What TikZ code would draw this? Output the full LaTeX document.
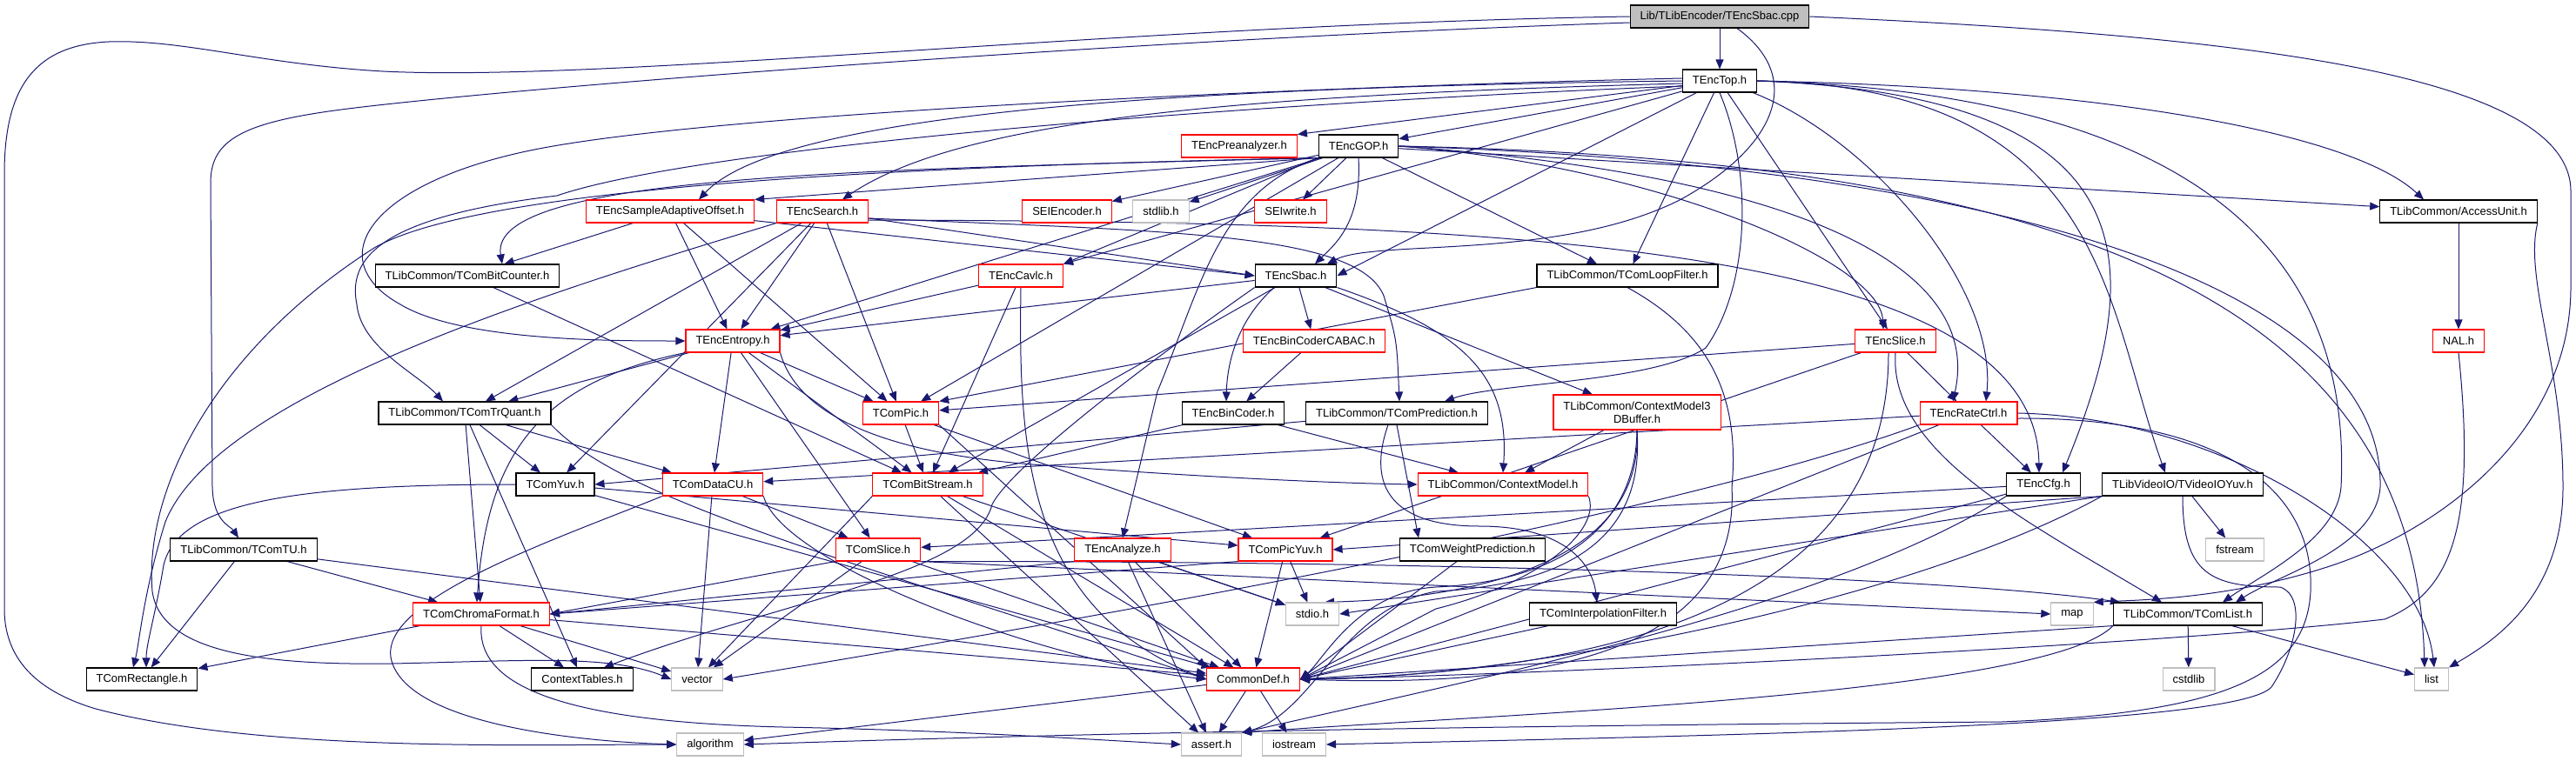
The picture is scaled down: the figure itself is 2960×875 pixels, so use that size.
\documentclass[tikz,border=0pt]{standalone}
\usepackage{fontspec}
\setmainfont{Liberation Sans}
\usetikzlibrary{arrows.meta,calc}
\definecolor{dxblue}{HTML}{191970}
\definecolor{dxgray}{HTML}{BFBFBF}
\pgfdeclarelayer{edges}
\pgfsetlayers{edges,main}

\begin{document}
\begin{tikzpicture}[x=1pt,y=-1pt,>={Triangle[length=11pt,width=9pt]},
  box/.style={draw=black,line width=1.1pt,fill=white,minimum height=26pt,inner xsep=11.5pt,inner ysep=2pt,font=\fontsize{13}{15}\selectfont},
  redbox/.style={box,draw=red},
  sysbox/.style={box,draw=dxgray},
  dep/.style={->,draw=dxblue,line width=1pt}]
  \useasboundingbox (0,0) rectangle (2960,875);
  \node[box,fill=dxgray] (cpp) at (1976,19) {Lib/TLibEncoder/TEncSbac.cpp};
  \node[box] (top) at (1976,93) {TEncTop.h};
  \node[redbox] (preana) at (1424,168) {TEncPreanalyzer.h};
  \node[box] (gop) at (1561,168) {TEncGOP.h};
  \node[redbox] (sao) at (770,243) {TEncSampleAdaptiveOffset.h};
  \node[redbox] (search) at (945,243) {TEncSearch.h};
  \node[redbox] (seienc) at (1226,243) {SEIEncoder.h};
  \node[sysbox] (stdlib) at (1334,243) {stdlib.h};
  \node[redbox] (seiwr) at (1483,243) {SEIwrite.h};
  \node[box] (au) at (2825,243) {TLibCommon/AccessUnit.h};
  \node[box] (bitcnt) at (537,317) {TLibCommon/TComBitCounter.h};
  \node[redbox] (cavlc) at (1173,317) {TEncCavlc.h};
  \node[box] (sbac) at (1489,317) {TEncSbac.h};
  \node[box] (loopf) at (1870,317) {TLibCommon/TComLoopFilter.h};
  \node[redbox] (ent) at (842,392) {TEncEntropy.h};
  \node[redbox] (cabac) at (1510,392) {TEncBinCoderCABAC.h};
  \node[redbox] (slice) at (2178,392) {TEncSlice.h};
  \node[redbox] (nal) at (2825,392) {NAL.h};
  \node[box] (trq) at (534,475) {TLibCommon/TComTrQuant.h};
  \node[redbox] (pic) at (1035,475) {TComPic.h};
  \node[box] (bincod) at (1417,475) {TEncBinCoder.h};
  \node[box] (pred) at (1605,475) {TLibCommon/TComPrediction.h};
  \node[redbox,align=center,minimum height=40pt] (cm3d) at (1881,474) {TLibCommon/ContextModel3\\DBuffer.h};
  \node[redbox] (ratec) at (2262,475) {TEncRateCtrl.h};
  \node[box] (yuv) at (638,557) {TComYuv.h};
  \node[redbox] (dcu) at (819,557) {TComDataCU.h};
  \node[redbox] (bs) at (1066,557) {TComBitStream.h};
  \node[redbox] (cm) at (1727,557) {TLibCommon/ContextModel.h};
  \node[box] (cfg) at (2348,557) {TEncCfg.h};
  \node[box] (vio) at (2508,557) {TLibVideoIO/TVideoIOYuv.h};
  \node[box] (tu) at (280,632) {TLibCommon/TComTU.h};
  \node[redbox] (tslice) at (1009,632) {TComSlice.h};
  \node[redbox] (anal) at (1290,632) {TEncAnalyze.h};
  \node[redbox] (picyuv) at (1477,632) {TComPicYuv.h};
  \node[box] (wpred) at (1692,632) {TComWeightPrediction.h};
  \node[sysbox] (fstream) at (2568,632) {fstream};
  \node[redbox] (chroma) at (553,706) {TComChromaFormat.h};
  \node[sysbox] (stdio) at (1508,706) {stdio.h};
  \node[box] (interp) at (1842,706) {TComInterpolationFilter.h};
  \node[sysbox] (map) at (2381,706) {map};
  \node[box] (clist) at (2514,706) {TLibCommon/TComList.h};
  \node[box] (rect) at (163,781) {TComRectangle.h};
  \node[box] (ctxtab) at (669,781) {ContextTables.h};
  \node[sysbox] (vector) at (801,781) {vector};
  \node[redbox] (cdef) at (1440,781) {CommonDef.h};
  \node[sysbox] (cstdlib) at (2515,781) {cstdlib};
  \node[sysbox] (list) at (2794,781) {list};
  \node[sysbox] (algo) at (816,856) {algorithm};
  \node[sysbox] (assert) at (1392,856) {assert.h};
  \node[sysbox] (iostream) at (1487,856) {iostream};
  \begin{pgfonlayer}{edges}
  \foreach \src/\dst in {cpp/top,
    top/preana.north east, top/gop, top/cavlc, top/sbac.east, top/loopf, top/slice,
    gop.south west/sao.north east, gop/ent, gop/pic, gop.south west/cavlc.north east, gop/seienc, gop/stdlib, gop/seiwr, gop/au,
    sao/bitcnt, sao/ent, sao/pic, sao/sbac.west,
    search/yuv, search/trq, search/ent, search/pic, search/sbac.west,
    bitcnt/bs, au/nal, cavlc/ent, cavlc/bs,
    sbac/ent, sbac/bs, sbac/cabac, sbac/cm3d,
    loopf.south west/pic.north east,
    ent/trq, ent/pic, ent/bs, ent/dcu, ent/tslice,
    cabac/bincod,
    slice/pic, slice/ratec, slice/picyuv,
    trq/yuv, trq/dcu, trq/chroma, trq/ctxtab,
    pic/bs, pic/picyuv, pic.south east/cdef.north west,
    bincod/bs, bincod/cm, pred/yuv.east,
    cm3d/cm,
    ratec/dcu, ratec/cfg, ratec/cdef.east,
    yuv/picyuv, yuv/cdef,
    dcu/tslice, dcu/vector,
    bs.south west/vector, bs/stdio, bs/cdef, bs/assert,
    cfg/tslice, cfg/cdef.east,
    vio/fstream, vio.south west/picyuv.east, vio.south west/stdio.east,
    tu/rect, tu/chroma, tu/cdef,
    tslice.south west/chroma.east, tslice/vector, tslice/cdef, tslice.south east/map.west,
    anal.south west/chroma.east, anal/stdio, anal/cdef, anal/assert,
    picyuv.south west/chroma.east, picyuv/stdio, picyuv/cdef,
    wpred/cdef.east, interp/cdef.east,
    chroma/rect, chroma/ctxtab, chroma/vector, chroma/cdef,
    clist/cstdlib, clist/list, clist.south west/cdef.east,
    cdef/algo, cdef/assert, cdef/iostream}
    \draw[dep] (\src) -- (\dst);
  \draw[dep] (cpp.west) .. controls (1300,28) and (700,95) .. (440,82) .. controls (300,74) and (210,45) .. (125,48) .. controls (40,52) and (5,100) .. (5,200) -- (5,700) .. controls (5,770) and (60,800) .. (110,815) .. controls (300,865) and (600,856) .. (algo.west);
  \draw[dep] ($(cpp.west)+(0,7)$) .. controls (1300,45) and (600,100) .. (400,125) .. controls (280,140) and (242,160) .. (242,210) -- (244,560) .. controls (245,600) and (265,605) .. ($(tu.north)+(-6,0)$);
  \draw[dep] ($(cpp.south)+(20,0)$) .. controls (2075,90) and (2040,170) .. (1930,230) .. controls (1790,300) and (1580,275) .. ($(sbac.north)+(36,0)$);
  \draw[dep] (cpp.east) .. controls (2550,40) and (2954,80) .. (2954,220) -- (2954,330) .. controls (2954,500) and (2800,610) .. (2680,650) .. controls (2560,690) and (2450,690) .. (map.north east);
  \draw[dep] (top.west) .. controls (1400,100) and (900,125) .. ($(sao.north)+(33,0)$);
  \draw[dep] ($(top.west)+(0,3)$) .. controls (1400,110) and (1100,140) .. ($(search.north)+(23,0)$);
  \draw[dep] ($(top.west)+(0,-3)$) .. controls (1500,100) and (800,130) .. (600,175) .. controls (420,215) and (370,300) .. (460,350) .. controls (530,392) and (700,392) .. (ent.west);
  \draw[dep] ($(top.west)+(0,6)$) .. controls (1400,120) and (800,170) .. (640,225) .. controls (430,250) and (400,300) .. (410,350) .. controls (415,400) and (480,430) .. ($(trq.north)+(-25,0)$);
  \draw[dep] (top.south) .. controls (2015,200) and (2010,330) .. (1960,400) .. controls (1900,440) and (1720,440) .. ($(pred.north)+(55,0)$);
  \draw[dep] ($(top.south east)+(-5,0)$) .. controls (2150,160) and (2295,330) .. ($(ratec.north)+(20,0)$);
  \draw[dep] (top.east) .. controls (2470,110) and (2470,300) .. ($(cfg.north)+(22,0)$);
  \draw[dep] (top.east) .. controls (2420,100) and (2418,350) .. ($(vio.north)+(-20,0)$);
  \draw[dep] (top.east) .. controls (2400,100) and (2700,150) .. ($(au.north)+(-40,0)$);
  \draw[dep] (top.east) .. controls (2600,110) and (2700,350) .. (2690,560) .. controls (2685,620) and (2600,660) .. ($(clist.north)+(40,0)$);
  \draw[dep] (gop.south west) .. controls (1000,195) and (560,200) .. ($(bitcnt.north)+(40,0)$);
  \draw[dep] (gop.south) .. controls (1565,255) and (1535,280) .. ($(sbac.north)+(22,0)$);
  \draw[dep] (gop) -- ($(loopf.north)+(-35,0)$);
  \draw[dep] (gop.south west) .. controls (1400,220) and (1380,330) .. (1330,450) -- (anal.north);
  \draw[dep] (gop.east) .. controls (1900,190) and (2160,300) .. ($(slice.north)+(-14,0)$);
  \draw[dep] (gop.east) .. controls (2050,200) and (2280,300) .. ($(ratec.north)+(-18,0)$);
  \draw[dep] (gop.east) .. controls (2300,190) and (2740,330) .. (2735,560) .. controls (2730,630) and (2620,660) .. ($(clist.north)+(55,0)$);
  \draw[dep] (gop.east) .. controls (2450,185) and (2775,380) .. ($(list.north)+(-8,0)$);
  \draw[dep] (gop.south west) .. controls (1100,190) and (560,210) .. (430,285) .. controls (250,400) and (165,560) .. (175,680) .. controls (185,750) and (300,765) .. (450,763) .. controls (600,760) and (700,752) .. (vector.west);
  \draw[dep] (search.south west) .. controls (650,330) and (250,450) .. (190,600) .. controls (165,680) and (160,740) .. ($(rect.north)+(-10,0)$);
  \draw[dep] ($(search.east)+(0,8)$) .. controls (1350,266) and (1560,268) .. (1590,340) .. controls (1605,390) .. ($(pred.north)+(3,0)$);
  \draw[dep] ($(search.east)+(0,10)$) .. controls (1700,255) and (2340,275) .. ($(cfg.north)+(-5,0)$);
  \draw[dep] ($(sbac.south)+(-25,0)$) .. controls (1420,370) and (1410,420) .. ($(bincod.north)+(-8,0)$);
  \draw[dep] (sbac.south east) .. controls (1680,380) and (1735,430) .. (cm.north);
  \draw[dep] (sbac.south west) .. controls (1300,430) and (1160,540) .. (1140,580) .. controls (1120,660) and (900,690) .. ($(ctxtab.north)+(25,0)$);
  \draw[dep] (ent.south east) .. controls (920,490) and (1050,525) .. (1200,535) .. controls (1400,550) and (1550,556) .. (cm.west);
  \draw[dep] (ent.south west) .. controls (620,440) and (560,520) .. ($(chroma.north)+(-5,0)$);
  \draw[dep] (cavlc.south) .. controls (1170,520) and (1180,700) .. (cdef.west);
  \draw[dep] (trq.south east) .. controls (720,580) and (1000,650) .. (cdef.west);
  \draw[dep] (dcu.south east) .. controls (900,650) and (1200,760) .. (cdef.west);
  \draw[dep] (pred.south) -- ($(wpred.north)+(-62,0)$);
  \draw[dep] ($(pred.south)+(-10,0)$) .. controls (1570,560) and (1600,605) .. (1700,605) .. controls (1800,605) and (1830,650) .. ($(interp.north)+(-7,0)$);
  \draw[dep] (slice.south) .. controls (2170,520) and (2330,600) .. ($(clist.north)+(-30,0)$);
  \draw[dep] ($(slice.south)+(-8,0)$) .. controls (2170,620) and (2000,770) .. (cdef.east);
  \draw[dep] (au.south east) .. controls (2900,320) and (2945,420) .. (2945,560) .. controls (2945,690) and (2860,740) .. (list.north east);
  \draw[dep] (nal.south) .. controls (2845,600) and (2820,680) .. (2740,712) .. controls (2500,740) and (1800,775) .. (cdef.east);
  \draw[dep] (ratec.east) .. controls (2550,480) and (2780,620) .. ($(list.north)+(3,0)$);
  \draw[dep] (ratec.south west) .. controls (1900,600) and (1200,720) .. (vector.east);
  \draw[dep] ($(ratec.east)+(0,6)$) .. controls (2550,480) and (2660,560) .. (2655,680) .. controls (2650,780) and (2550,820) .. (2300,830) .. controls (1500,836) and (1100,848) .. (algo.east);
  \draw[dep] (loopf.south) .. controls (1960,380) and (2000,450) .. (1990,560) .. controls (2000,760) and (1750,790) .. (cdef.east);
  \draw[dep] (cm.south east) .. controls (1840,610) and (1770,670) .. (1650,700) -- (cdef.east);
  \draw[dep] (cm3d.south) .. controls (1890,680) and (1600,690) .. ($(stdio.north)+(14,0)$);
  \draw[dep] (cm3d.south) .. controls (1880,600) and (1800,668) .. (1650,675) .. controls (1560,680) and (1520,760) .. (cdef.east);
  \draw[dep] (cm3d.south) .. controls (1890,620) and (1800,672) .. (1650,680) .. controls (1540,700) and (1510,820) .. (assert.north east);
  \draw[dep] (cfg.south west) .. controls (2100,700) and (1700,780) .. (assert.north east);
  \draw[dep] (vio.south west) .. controls (2200,690) and (1750,780) .. (cdef.east);
  \draw[dep] (vio.south) .. controls (2508,660) and (2540,675) .. (2620,675) .. controls (2650,685) and (2640,745) .. (2610,790) .. controls (2570,835) and (2000,845) .. (iostream.east);
  \draw[dep] (clist.south west) .. controls (2350,800) and (1700,822) .. (assert.north east);
  \draw[dep] (chroma.south) .. controls (548,790) and (650,830) .. (900,836) .. controls (1100,840) and (1250,850) .. (assert.west);
  \draw[dep] (dcu.south west) .. controls (640,620) and (430,690) .. (450,760) .. controls (470,830) and (650,852) .. (algo.west);
  \draw[dep] (yuv.west) .. controls (350,557) and (205,575) .. (188,650) .. controls (178,710) and (168,740) .. ($(rect.north)+(5,0)$);
  \draw[dep] (tslice.south east) .. controls (1700,645) and (2250,665) .. ($(clist.north west)+(8,0)$);
  \end{pgfonlayer}
\end{tikzpicture}
\end{document}
